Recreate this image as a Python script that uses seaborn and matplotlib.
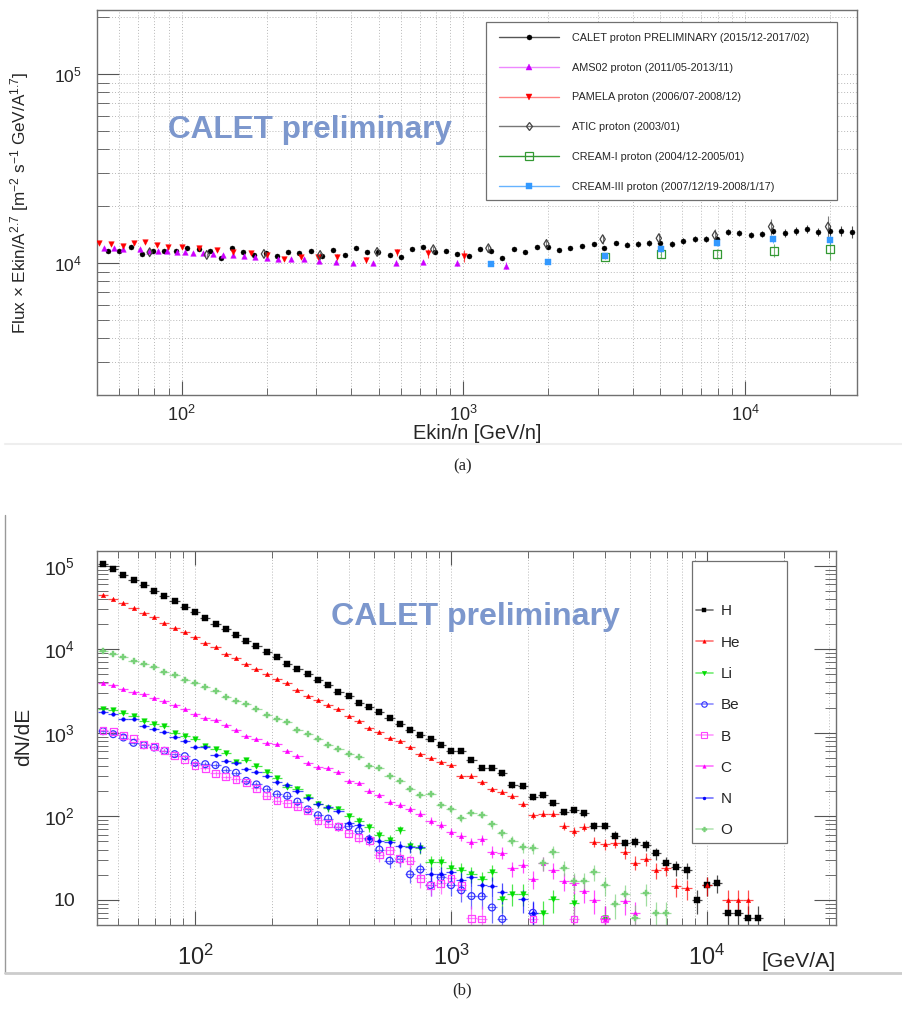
import numpy as np
import matplotlib
matplotlib.use("Agg")
import matplotlib.pyplot as plt
from matplotlib.lines import Line2D
from matplotlib.patches import Rectangle
from matplotlib.ticker import LogLocator, FuncFormatter, NullFormatter
from matplotlib.colors import to_rgba
import seaborn as sns

# ---------------- panel (a): proton flux x E^2.7 ----------------
calet_e = [54.5, 59.7, 65.8, 72.1, 78.8, 86.3, 95.2, 104, 115, 126, 138, 151, 165, 180,
           199, 218, 238, 261, 288, 315, 345, 380, 416, 455, 499, 550, 601, 659, 721, 795,
           871, 952, 1051, 1150, 1258, 1377, 1507, 1662, 1819, 1991, 2178, 2384, 2630,
           2901, 3148, 3474, 3802, 4160, 4552, 4983, 5500, 6017, 6637, 7262, 7946, 8700,
           9525, 10500, 11480, 12580, 13870, 15180, 16620, 18190, 20050, 21960, 24030]
calet_flux = [11570, 11570, 12150, 11160, 11570, 11570, 11570, 12000, 11860, 11570, 10630,
              12000, 11430, 11020, 11290, 10890, 11430, 11290, 11570, 10890, 11720, 11020,
              12000, 11430, 11430, 11020, 10760, 11860, 12150, 11430, 11570,
              11160, 10890, 11860, 11570, 10630, 11860, 11430, 12150, 12150, 11720, 12000,
              12300, 12600, 12000, 12760, 12450, 12600, 12760, 12760, 12600, 13070, 13400,
              13400, 13400, 14590, 14410, 14070, 14240, 14760, 14410, 14760, 15130, 14590,
              14760, 14760, 14590]
calet_err = [160, 160, 170, 160, 160, 160, 160, 170, 170, 170, 160, 170, 170, 170, 170, 170,
             180, 180, 180, 180, 190, 190, 200, 200, 210, 210, 210, 220, 230, 230, 240,
             240, 250, 260, 270, 270, 280, 290, 300, 310, 320, 330, 340, 350, 360, 370, 380,
             390, 400, 420, 440, 460, 480, 500, 520, 540, 560, 580, 600, 620, 650, 680, 720,
             760, 800, 900, 1000]

ams_e = [52.8, 57.3, 61.7, 70.9, 76.3, 82.1, 88.4, 96, 102.5, 110, 119, 129, 140, 152, 166,
         182, 201, 220, 244, 272, 307, 353, 406, 478, 578, 721, 952, 1422]
ams_flux = [11960, 11960, 11810, 11810, 11620, 11620, 11570, 11480, 11480, 11250, 11250,
            11160, 10980, 10950, 10890, 10800, 10660, 10540, 10540, 10460, 10290, 10120,
            10040, 9960, 10040, 10120, 9960, 9680]
ams_err = [120, 120, 120, 120, 120, 120, 120, 120, 120, 120, 120, 120, 120, 120, 130, 130,
           140, 140, 150, 160, 170, 190, 210, 230, 260, 300, 350, 450]

pamela_e = [50.7, 55.9, 61.7, 67.5, 73.8, 81.5, 89.2, 100, 115, 133, 152, 176, 201, 231, 265,
            305, 356, 452, 582, 751, 1008]
pamela_flux = [12710, 12600, 12350, 12710, 12850, 12410, 12200, 12110, 11960, 11720, 11480,
               11250, 11020, 10460, 10800, 10800, 10720, 10370, 11390, 11250, 10890]
pamela_err = [150, 150, 150, 150, 160, 160, 170, 180, 190, 200, 210, 230, 250, 270, 300, 330,
              370, 420, 500, 600, 750]

atic_e = [76.9, 122.7, 195.8, 310, 494, 782, 1227, 1973, 3124, 4944, 7822, 12380, 19730]
atic_flux = [11390, 11020, 11160, 11020, 11430, 11820, 11960, 12600, 13350, 13510, 14020,
             15560, 15560]
atic_err = [300, 300, 300, 350, 400, 450, 500, 600, 700, 900, 1100, 1500, 2200]

cream1_e = [3174, 5025, 7946, 12680, 20050]
cream1_flux = [10800, 11160, 11160, 11620, 11820]
cream1_err = [300, 500, 700, 900, 1400]

cream3_e = [1258, 1991, 3174, 5025, 7946, 12580, 20050]
cream3_flux = [9840, 10120, 10890, 11820, 12710, 13350, 13190]
cream3_err = [150, 200, 250, 350, 450, 600, 800]

# ---------------- panel (b): dN/dE per element ----------------
bin_energy = [43.7, 47.9, 52.5, 57.5, 63.1, 69.2, 75.9, 83.2, 91.2, 100, 109.6, 120.2, 131.8,
              144.5, 158.5, 173.8, 190.5, 208.9, 229.1, 251.2, 275.4, 302.0, 331.1, 363.1,
              398.1, 436.5, 478.6, 524.8, 575.4, 631.0, 691.8, 758.6, 831.8, 912.0, 1000,
              1096, 1202, 1318, 1445, 1585, 1738, 1905, 2089, 2291, 2512, 2754, 3020, 3311,
              3631, 3981, 4365, 4786, 5248, 5754, 6310, 6918, 7586, 8318, 9120, 10000, 10965,
              12023, 13183, 14454, 15849]
h_counts = [106000, 90600, 77500, 66900, 58300, 50300, 43500, 37900, 32400, 27700, 23700,
            20300, 17300, 15000, 12600, 11000, 9290, 8020, 6740, 5820, 5020, 4300, 3750, 3090,
            2770, 2280, 2040, 1760, 1520, 1280, 1090, 944, 846, 705, 608, 608, 466, 384, 384,
            326, 236, 230, 168, 181, 145, 113, 119, 109, 76, 77, 58.5, 47.3, 49.5, 45.3, 36,
            27.3, 24.4, 22.7, 10.0, 15, 16, 7.0, 7.0, 6.0, 6.0]
he_counts = [45100, 40400, 35800, 31200, 27500, 24400, 20700, 18200, 16000, 13900, 12000,
             10500, 8880, 7880, 6740, 5820, 5020, 4380, 3960, 3290, 2770, 2460, 2180, 1920,
             1570, 1380, 1140, 1020, 862, 801, 673, 555, 502, 441, 417, 303, 308, 254, 210,
             197, 176, 140, 104, 108, 108, 77, 66.5, 75, 49.6, 46.1, 48.2, 37, 27.8, 30.8,
             22.7, 24, 14.6, 13.7, None, 15, None, 9.9, 9.9, 9.9, None]
li_counts = [1950, 1860, 1730, 1590, 1390, 1290, 1200, 998, 919, 831, 691, 631, 565, 449,
             470, 402, 335, 284, 225, 215, 171, 140, 125, 121, 100, 88, 74, 60, 52, 69, 44,
             42, 28, 28.6, 24, 22.7, 20.4, 17.6, 21.7, 10.1, 11.9, 11.9, None, 7.0, 10.1,
             None, 9.1, None, None, 6.0] + [None] * 15
be_counts = [1045, 962, 878, 758, 711, 667, 608, 555, 525, 437, 421, 410, 357, 332, 266, 241,
             210, 183, 176, 150, 121, 103, 94, 75, 76, 67, 53, 40, 29.4, 30.5, 20.2, 23.1,
             15, 18.6, 15, 13, 11.1, 11, 8.1, 5.9, None, None, 7.0] + [None] * 22
b_counts = [1074, 1026, 936, 854, 724, 679, 608, 530, 479, 410, 374, 326, 297, 276, 254, 216,
            176, 153, 143, 130, 116, 90, 82, 75, 62.4, 55.4, 51.9, 34.4, 39.4, 31.3, 29.4,
            18.1, 15, 15.7, 18.1, 15, 6.0, 5.9, None, None, None, None, 5.9, None, None,
            None, 5.9, None, None, 5.9] + [None] * 15
c_counts = [3990, 3710, 3380, 3090, 2900, 2640, 2430, 2140, 1900, 1690, 1500, 1420, 1230,
            1090, 919, 831, 758, 731, 608, 530, 437, 391, 381, 341, 264, 252, 202, 179, 147,
            136, 121, 108, 88.4, 78.5, 65.3, 58, 48.7, 52.9, 37.6, 36.6, 23.8, 26.1, 17.7,
            27.3, 22.5, 17, 15.7, 12.7, 9.9, 5.9, None, 9.8, 6.9] + [None] * 12
n_counts = [1780, 1700, 1482, 1482, 1200, 1104, 1026, 894, 793, 679, 667, 535, 462, 429, 364,
            341, 303, 254, 240, 200, 164, 139, 128, 116, 84, 78.5, 54.3, 51, 49.6, 44, 43.2,
            43.2, 20.2, 20.2, 21.7, 17.2, 18.6, 15, 14.7, 12.5, None, 10.1, 6.9] + [None] * 22
o_counts = [9460, 8870, 8100, 7320, 6740, 6150, 5410, 4980, 4340, 3960, 3540, 3170, 2670,
            2430, 2200, 1950, 1650, 1470, 1350, 1090, 962, 838, 717, 648, 555, 506, 402, 377,
            300, 264, 213, 178, 186, 136, 121, 95, 111, 105, 80, 63.5, 51, 42.4, 41.6, 27.5,
            37.6, 24, 16.9, 17, 21.3, 14.9, 8.9, 11.8, 6.1, 12, 6.9, 6.9] + [None] * 9

element_names = ["H", "He", "Li", "Be", "B", "C", "N", "O"]
element_counts = [h_counts, he_counts, li_counts, be_counts, b_counts, c_counts, n_counts,
                  o_counts]

# ---------------- style ----------------
sns.set_style("ticks")
plt.rcParams["font.family"] = ["Liberation Sans", "DejaVu Sans"]
plt.rcParams["mathtext.fontset"] = "custom"
plt.rcParams["mathtext.rm"] = "Liberation Sans"
plt.rcParams["mathtext.it"] = "Liberation Sans:italic"
plt.rcParams["mathtext.bf"] = "Liberation Sans:bold"

W, H = 902, 1014
fig = plt.figure(figsize=(W / 100, H / 100), dpi=100)
ax_a = fig.add_axes([97 / W, 1 - 395 / H, 760 / W, 385 / H])
ax_b = fig.add_axes([97 / W, 1 - 925 / H, 739 / W, 374 / H])

label_blue = "#7c97cd"
grid_kw = dict(color="#b8b8b8", ls=(0, (1, 2)), lw=0.7)


def draw_series(ax, x, y, yerr, color, marker, size, hollow=False, xerr=None, lw=0.8):
    x = np.asarray(x, dtype=float)
    y = np.asarray(y, dtype=float)
    yerr = np.asarray(yerr, dtype=float)
    ok = ~np.isnan(y)
    xe = None if xerr is None else np.asarray(xerr)[:, ok]
    ax.errorbar(x[ok], y[ok], yerr=yerr[ok], xerr=xe, fmt="none", ecolor=color,
                elinewidth=lw, capsize=0, alpha=0.7, zorder=2)
    face = "none" if hollow else color
    sns.scatterplot(x=x[ok], y=y[ok], ax=ax, marker=marker, s=size, color=color,
                    facecolor=face, edgecolor=color, linewidth=0.9 if hollow else 0.3,
                    zorder=3, legend=False)


def style_frame(ax):
    for sp in ax.spines.values():
        sp.set_color("#707070")
        sp.set_linewidth(1.0)


# ---------------- panel (a) ----------------
ax_a.set_xscale("log")
ax_a.set_yscale("log")

series_a = [
    (calet_e, calet_flux, calet_err, "black", "o", 13, False),
    (ams_e, ams_flux, ams_err, "#cc00ff", "^", 16, False),
    (pamela_e, pamela_flux, pamela_err, "#ff0000", "v", 16, False),
    (atic_e, atic_flux, atic_err, "#444444", "d", 20, True),
    (cream1_e, cream1_flux, cream1_err, "#339933", "s", 34, True),
    (cream3_e, cream3_flux, cream3_err, "#3399ff", "s", 22, False),
]
for e, f, err, col, mk, sz, hollow in series_a:
    draw_series(ax_a, e, f, err, col, mk, sz, hollow)

ax_a.set_xlim(50, 25000)
ax_a.set_ylim(2000, 2.18e5)
ax_a.xaxis.set_major_locator(LogLocator(base=10, numticks=10))
ax_a.xaxis.set_minor_locator(LogLocator(base=10, subs=np.arange(2, 10), numticks=100))
ax_a.yaxis.set_major_locator(LogLocator(base=10, numticks=10))
ax_a.yaxis.set_minor_locator(LogLocator(base=10, subs=np.arange(2, 10), numticks=100))
ax_a.xaxis.set_minor_formatter(NullFormatter())
ax_a.yaxis.set_minor_formatter(NullFormatter())
ax_a.grid(True, which="both", axis="both", **grid_kw)
ax_a.tick_params(axis="y", which="major", direction="in", length=16, width=0.8,
                 color="#555555", labelsize=12.5, pad=11)
ax_a.tick_params(axis="y", which="minor", direction="in", length=8.5, width=0.6,
                 color="#555555")
ax_a.tick_params(axis="x", which="major", direction="in", length=10, width=0.8,
                 color="#555555", labelsize=13, pad=7)
ax_a.tick_params(axis="x", which="minor", direction="in", length=5, width=0.6,
                 color="#555555")
style_frame(ax_a)

ax_a.set_xlabel("Ekin/n [GeV/n]", fontsize=14.4)
ax_a.xaxis.set_label_coords(0.5, -0.076)
ax_a.set_ylabel(r"Flux $\times$ Ekin/A$^{2.7}$ [m$^{-2}$ s$^{-1}$ GeV/A$^{1.7}$]",
                fontsize=12.3)
ax_a.yaxis.set_label_coords(-0.087, 0.5)

ax_a.text(0.28, 0.688, "CALET preliminary", transform=ax_a.transAxes, fontsize=22.7,
          fontweight="bold", color=label_blue, ha="center", va="center", zorder=4)

a_labels = ["CALET proton PRELIMINARY (2015/12-2017/02)", "AMS02 proton (2011/05-2013/11)",
            "PAMELA proton (2006/07-2008/12)", "ATIC proton (2003/01)",
            "CREAM-I proton (2004/12-2005/01)", "CREAM-III proton (2007/12/19-2008/1/17)"]
a_line_colors = ["#555555", "#ee88ff", "#ff8080", "#777777", "#339933", "#66b3ff"]
a_handles = []
for (e, f, err, col, mk, sz, hollow), lc in zip(series_a, a_line_colors):
    a_handles.append(Line2D([], [], color=lc, lw=1.0, marker=mk,
                            ms=np.sqrt(sz), mfc="none" if hollow else col, mec=col,
                            mew=0.9 if hollow else 0.3))
ax_a.add_patch(Rectangle((0.512, 0.506), 0.462, 0.463, transform=ax_a.transAxes,
                         fc="white", ec="#707070", lw=0.9, zorder=4))
ax_a.legend(a_handles, a_labels, loc="upper left", bbox_to_anchor=(0.529, 0.941),
            frameon=False, fontsize=7.8, handlelength=5.5, handletextpad=1.2,
            labelspacing=1.83, borderpad=0, borderaxespad=0)

# ---------------- panel (b) ----------------
ax_b.set_xscale("log")
ax_b.set_yscale("log")

energy = np.asarray(bin_energy)
edges_mid = np.sqrt(energy[:-1] * energy[1:])
lo_edge = np.concatenate([[energy[0] ** 2 / edges_mid[0]], edges_mid])
hi_edge = np.concatenate([edges_mid, [energy[-1] ** 2 / edges_mid[-1]]])
bin_xerr = np.vstack([energy - lo_edge, hi_edge - energy])

element_styles = [
    ("black", "s", 20, False),
    ("#ff0000", "^", 10, False),
    ("#00dd00", "v", 16, False),
    ("#3030ff", "o", 24, True),
    ("#ff44ff", "s", 24, True),
    ("#ff00ff", "^", 10, False),
    ("#0000ff", "o", 7, False),
    ("#78d078", "P", 20, False),
]
b_handles = []
for counts, (col, mk, sz, hollow) in zip(element_counts, element_styles):
    y = np.asarray(counts, dtype=float)
    draw_series(ax_b, energy, y, np.sqrt(y), col, mk, sz, hollow, xerr=bin_xerr, lw=0.9)
    b_handles.append(Line2D([], [], color=to_rgba(col, 0.55), lw=1.2, marker=mk,
                            ms=np.sqrt(sz) * 0.8, mfc="none" if hollow else col, mec=col,
                            mew=0.8 if hollow else 0.3))

ax_b.set_xlim(41.4, 31900)
ax_b.set_ylim(5.0, 1.5e5)
ax_b.xaxis.set_major_locator(LogLocator(base=10, numticks=10))
ax_b.xaxis.set_minor_locator(LogLocator(base=10, subs=np.arange(2, 10), numticks=100))
ax_b.yaxis.set_major_locator(LogLocator(base=10, numticks=10))
ax_b.yaxis.set_minor_locator(LogLocator(base=10, subs=np.arange(2, 10), numticks=100))
ax_b.xaxis.set_minor_formatter(NullFormatter())
ax_b.yaxis.set_minor_formatter(NullFormatter())
ax_b.yaxis.set_major_formatter(FuncFormatter(
    lambda v, pos: "10" if abs(v - 10) < 1e-6 else r"$\mathdefault{10^{%d}}$" % round(np.log10(v))))
ax_b.grid(True, which="both", axis="x", **grid_kw)
ax_b.tick_params(axis="y", which="major", direction="in", length=16, width=0.8,
                 color="#555555", labelsize=14, pad=16, left=True, right=True)
ax_b.tick_params(axis="y", which="minor", direction="in", length=8, width=0.6,
                 color="#555555", left=True, right=True)
ax_b.tick_params(axis="x", which="major", direction="in", length=10, width=0.8,
                 color="#555555", labelsize=17, pad=14, top=True, bottom=True)
ax_b.tick_params(axis="x", which="minor", direction="in", length=5, width=0.6,
                 color="#555555", top=True, bottom=True)
style_frame(ax_b)

ax_b.set_ylabel("dN/dE", fontsize=15)
ax_b.yaxis.set_label_coords(-0.087, 0.503)
ax_b.text(1.0, -0.112, "[GeV/A]", transform=ax_b.transAxes, fontsize=15.2,
          ha="right", va="baseline")
ax_b.text(0.512, 0.8235, "CALET preliminary", transform=ax_b.transAxes, fontsize=23.1,
          fontweight="bold", color=label_blue, ha="center", va="center", zorder=4)

ax_b.add_patch(Rectangle((0.805, 0.219), 0.129, 0.754, transform=ax_b.transAxes,
                         fc="white", ec="#707070", lw=0.9, zorder=4))
ax_b.legend(b_handles, element_names, loc="upper left", bbox_to_anchor=(0.8106, 0.857),
            frameon=False, fontsize=11, handlelength=1.1, handletextpad=0.5,
            labelspacing=1.13, borderpad=0, borderaxespad=0)

# ---------------- page decorations ----------------
fig.text(0.513, 1 - 466 / H, "(a)", family="Liberation Serif", fontsize=12,
         ha="center", va="center")
fig.text(0.512, 1 - 990 / H, "(b)", family="Liberation Serif", fontsize=12,
         ha="center", va="center")
fig.add_artist(Line2D([5 / W, 1], [1 - 444 / H] * 2, transform=fig.transFigure,
                      color="#eeeeee", lw=1.5))
fig.add_artist(Line2D([5 / W, 5 / W], [1 - 515 / H, 1 - 973 / H], transform=fig.transFigure,
                      color="#999999", lw=1.0))
fig.add_artist(Line2D([5 / W, 1], [1 - 973 / H] * 2, transform=fig.transFigure,
                      color="#cccccc", lw=2.0))

fig.savefig("out.png", dpi=100, facecolor="white")
